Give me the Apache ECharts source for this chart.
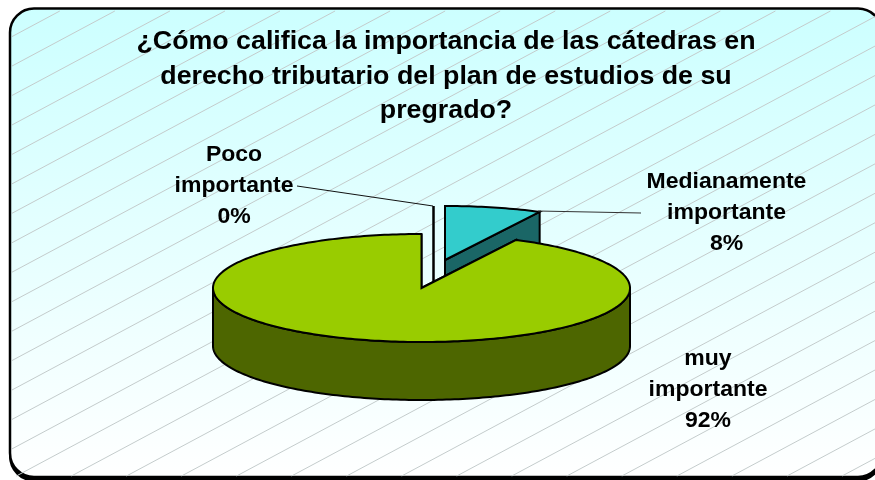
<!DOCTYPE html>
<html><head><meta charset="utf-8">
<style>html,body{margin:0;padding:0;background:#fff}#c{width:875px;height:480px}</style>
<script src="https://cdn.jsdelivr.net/npm/echarts@6/dist/echarts.min.js"></script>
</head><body><div id="c"></div>
<script>
var titleText = '¿Cómo califica la importancia de las cátedras en\nderecho tributario del plan de estudios de su\npregrado?';
var categories = ['Medianamente\nimportante', 'muy\nimportante', 'Poco\nimportante'];
var values = [7.5, 92.5, 0];
var shownPercents = ['8%', '92%', '0%'];

var CX = 421.5, CY = 288, RX = 208.5, RY = 54, DEPTH = 58;
var FONT = '"Liberation Sans", Arial, sans-serif';
var looks = [
  {top:'#33CCCC', wall:'#1A6666', dx:23.5, dy:-28, z:2, lx:726.5, ly:213, line:[[538,211],[641,213]], lineColor:'#333'},
  {top:'#99CC00', wall:'#4D6600', dx:0, dy:0, z:3, lx:708, ly:390, line:null},
  {top:'#000', wall:'#000', dx:12, dy:-28, z:1, lx:234, ly:186, line:[[297,186],[433,206]], lineColor:'#111'}
];
var total = values.reduce(function(a,b){return a+b;},0);
function pt(cx,cy,a){return [cx+RX*Math.sin(a), cy-RY*Math.cos(a)];}
function arc(cx,cy,a0,a1){var n=Math.max(1,Math.ceil(Math.abs(a1-a0)/0.02)),r=[];
  for(var i=0;i<=n;i++)r.push(pt(cx,cy,a0+(a1-a0)*i/n));return r;}
function renderSlice(params, api){
  var i = params.dataIndex, L = looks[i], sum = 0;
  for (var k=0;k<i;k++) sum += values[k];
  var a0 = sum/total*2*Math.PI, a1 = (sum+api.value(0))/total*2*Math.PI;
  var cx = CX+L.dx, cy = CY+L.dy, kids = [];
  function poly(points,fill,z){kids.push({type:'polygon',shape:{points:points},z2:L.z*10+z,
    style:{fill:fill,stroke:'#000',lineWidth:2,lineJoin:'miter'}});}
  [a0,a1].forEach(function(a){var p=pt(cx,cy,a);
    poly([[cx,cy],p,[p[0],p[1]+DEPTH],[cx,cy+DEPTH]],L.wall,1);});
  var s=Math.max(a0,Math.PI/2), e=Math.min(a1,1.5*Math.PI);
  if(e>s){var rim=arc(cx,cy,s,e), low=rim.map(function(p){return [p[0],p[1]+DEPTH];}).reverse();
    poly(rim.concat(low),L.wall,2);}
  if(a1>a0) poly([[cx,cy]].concat(arc(cx,cy,a0,a1)),L.top,3);
  return {type:'group',children:kids};
}
function renderLabel(params){
  var i=params.dataIndex,L=looks[i],kids=[];
  if(L.line) kids.push({type:'polyline',shape:{points:L.line},style:{stroke:L.lineColor,lineWidth:1,fill:null}});
  kids.push({type:'text',x:L.lx,y:L.ly,scaleX:1.07,style:{text:categories[i]+'\n'+shownPercents[i],font:'bold 21.5px '+FONT,
    lineHeight:31,fill:'#000',align:'center',verticalAlign:'middle'}});
  return {type:'group',children:kids};
}
var BL=12,BT=11,BR=875,BB=476,hatch=[];
for(var c=43;c<1300;c+=29.45){
  var x0=BL,y0=c-0.535*x0; if(y0>BB){y0=BB;x0=(c-BB)/0.535;}
  var x1=BR,y1=c-0.535*x1; if(y1<BT){y1=BT;x1=(c-BT)/0.535;}
  if(x1>x0) hatch.push({type:'line',shape:{x1:x0,y1:y0,x2:x1,y2:y1},z:2,silent:true,style:{stroke:'#c4cccc',lineWidth:1}});
}
var chart=echarts.init(document.getElementById('c'),null,{renderer:'canvas'});
chart.setOption({
  animation:false,
  backgroundColor:'#fff',
  graphic:[{type:'group',silent:true,children:
    [{type:'rect',shape:{x:10,y:10.5,width:872,height:470,r:24},z:0,style:{fill:'#000',stroke:'#000',lineWidth:2}},
     {type:'rect',shape:{x:10,y:8.5,width:872,height:468.5,r:24},z:1,
      style:{stroke:'#000',lineWidth:2.5,fill:{type:'linear',x:0,y:0,x2:0,y2:1,colorStops:[{offset:0,color:'#CCFFFF'},{offset:1,color:'#FFFFFF'}]}}}].concat(hatch).concat([
     {type:'text',x:446,y:76.5,z:3,scaleX:1.03,style:{text:titleText,font:'bold 26px '+FONT,lineHeight:34.5,fill:'#000',align:'center',verticalAlign:'middle'}}
    ])}],
  series:[
    {type:'custom',coordinateSystem:'none',z:3,silent:true,data:values.map(function(v){return [v];}),renderItem:renderSlice},
    {type:'custom',coordinateSystem:'none',z:4,silent:true,data:values.map(function(v){return [v];}),renderItem:renderLabel}
  ]
});
</script></body></html>
